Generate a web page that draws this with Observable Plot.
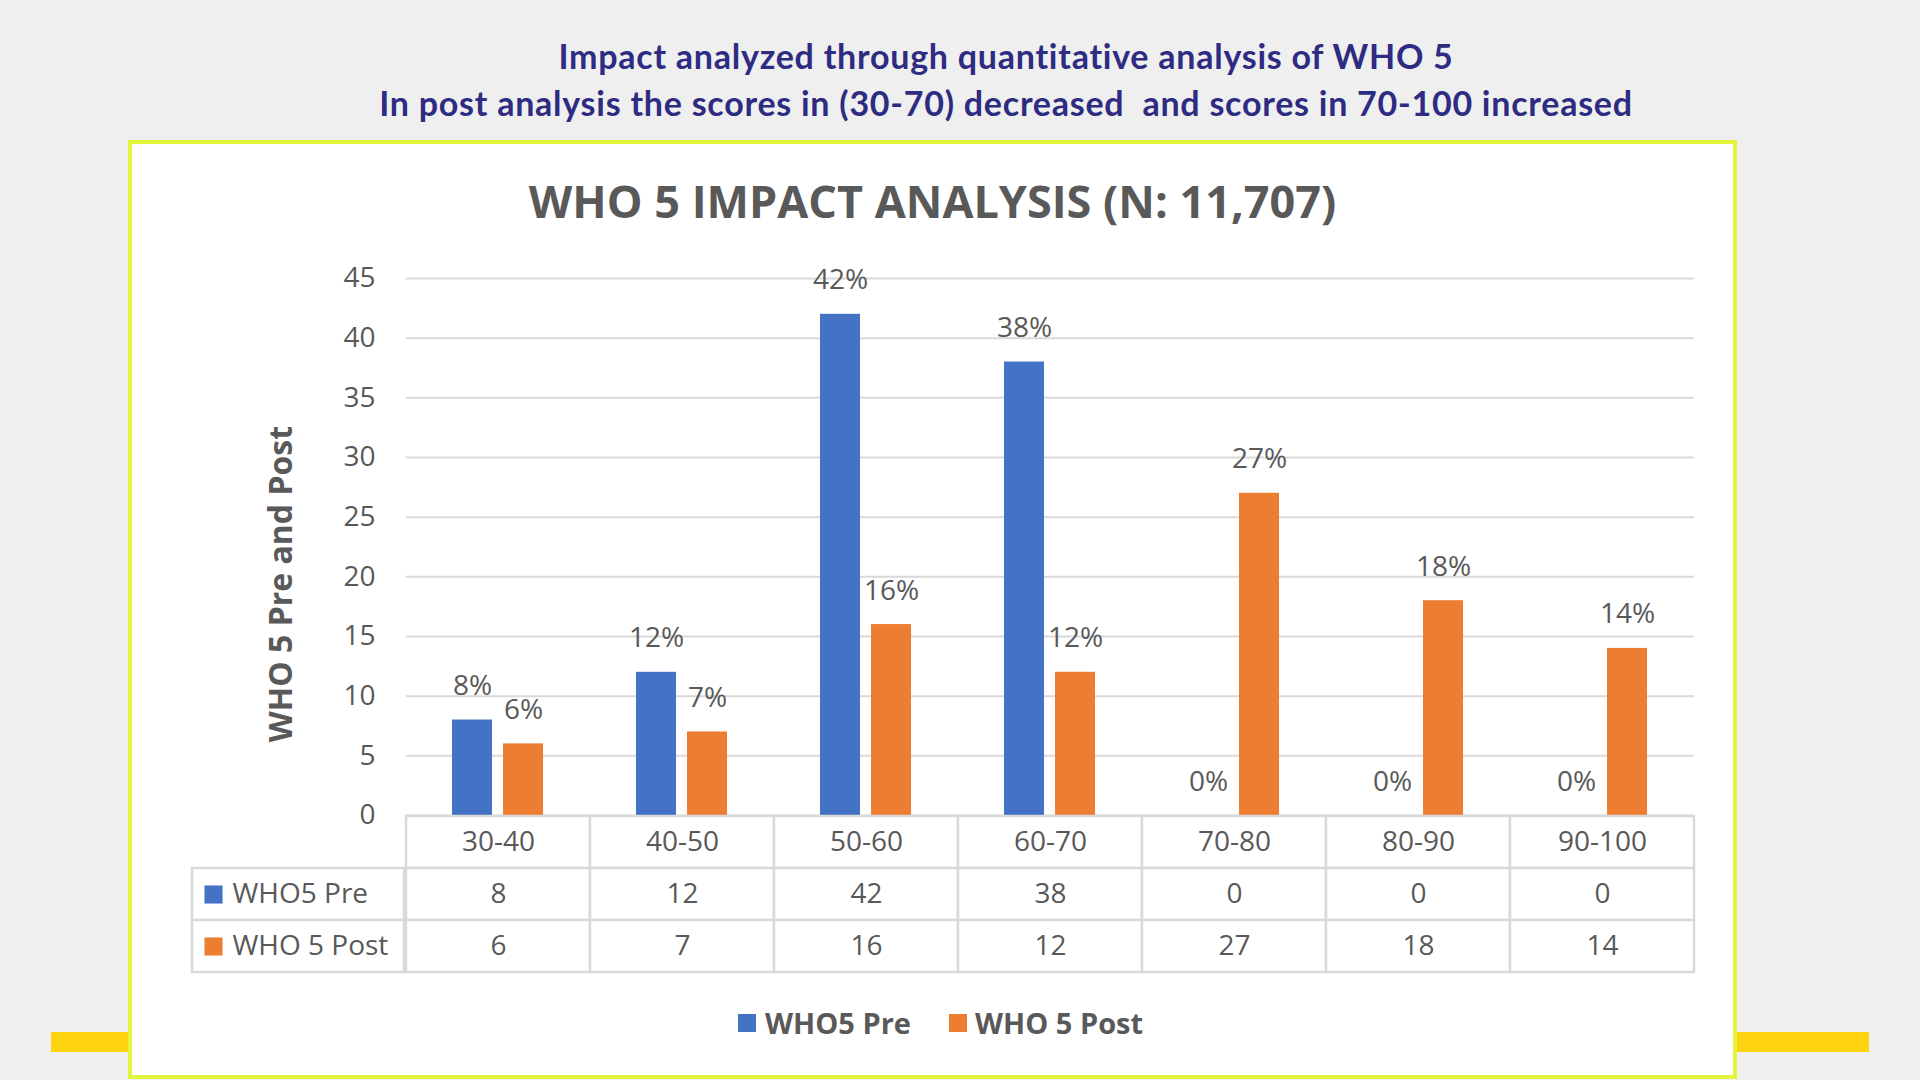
<!DOCTYPE html>
<html>
<head>
<meta charset="utf-8">
<script src="https://cdn.jsdelivr.net/npm/d3@7"></script>
<script src="https://cdn.jsdelivr.net/npm/@observablehq/plot@0.6"></script>
<style>
  html, body { margin: 0; padding: 0; background: #efefef; }
  #page { position: relative; width: 1920px; height: 1080px; overflow: hidden; background: #efefef; font-family: "Open Sans", sans-serif; }
  .abs { position: absolute; }
  .headline { font-family: "Lato", sans-serif; font-weight: 700; color: #2e2b82; font-size: 34px; line-height: 34px; letter-spacing: 0.75px; white-space: pre; transform: translateX(-50%); left: 1006px; }
  .yellow { background: #fdd20e; top: 1032px; height: 20px; }
  #frame { left: 128px; top: 140px; width: 1609px; height: 939px; box-sizing: border-box; border: 4px solid #e3f53a; background: #ffffff; }
  #chartTitle { left: 132px; width: 1601px; top: 178px; text-align: center; font-weight: 700; font-size: 45px; line-height: 45px; color: #595959; }
  #yLabel { left: 279.5px; top: 584px; transform: translate(-50%, -50%) rotate(-90deg); font-weight: 700; font-size: 32px; line-height: 32px; color: #595959; white-space: nowrap; }
  .plotHolder { left: 0; top: 0; width: 1920px; height: 1080px; }
  .lgSq { width: 18px; height: 18px; top: 1014px; }
  .lgTx { top: 1022px; transform: translateY(-50%); font-weight: 700; font-size: 29px; line-height: 29px; color: #595959; white-space: nowrap; }
</style>
</head>
<body>
<div id="page">
  <div class="abs headline" id="t1" style="top:39px;"></div>
  <div class="abs headline" id="t2" style="top:86px;"></div>
  <div class="abs yellow" style="left:51px; width:80px;"></div>
  <div class="abs yellow" style="left:1734px; width:135px;"></div>
  <div class="abs" id="frame"></div>
  <div class="abs" id="chartTitle"></div>
  <div class="abs" id="yLabel"></div>
  <div class="abs plotHolder" id="chartPlot"></div>
  <div class="abs plotHolder" id="tablePlot"></div>
  <div class="abs lgSq" id="lgSq1" style="left:738px;"></div>
  <div class="abs lgTx" id="lgTx1" style="left:765px;"></div>
  <div class="abs lgSq" id="lgSq2" style="left:949px;"></div>
  <div class="abs lgTx" id="lgTx2" style="left:975px;"></div>
</div>
<script>
// ---- data ----
const headline1 = "Impact analyzed through quantitative analysis of WHO 5";
const headline2 = "In post analysis the scores in (30-70) decreased  and scores in 70-100 increased";
const chartTitle = "WHO 5 IMPACT ANALYSIS (N: 11,707)";
const yAxisTitle = "WHO 5 Pre and Post";
const categories = ["30-40", "40-50", "50-60", "60-70", "70-80", "80-90", "90-100"];
const seriesNames = ["WHO5 Pre", "WHO 5 Post"];
const preValues = [8, 12, 42, 38, 0, 0, 0];
const postValues = [6, 7, 16, 12, 27, 18, 14];
const yTicks = [0, 5, 10, 15, 20, 25, 30, 35, 40, 45];
const seriesColors = ["#4472c4", "#ed7d31"];

// ---- derived table ----
const barData = [];
categories.forEach((c, i) => {
  barData.push({cat: c, series: seriesNames[0], value: preValues[i]});
  barData.push({cat: c, series: seriesNames[1], value: postValues[i]});
});

document.getElementById("t1").textContent = headline1;
document.getElementById("t2").textContent = headline2;
document.getElementById("chartTitle").textContent = chartTitle;
document.getElementById("yLabel").textContent = yAxisTitle;
document.getElementById("lgSq1").style.background = seriesColors[0];
document.getElementById("lgSq2").style.background = seriesColors[1];
document.getElementById("lgTx1").textContent = seriesNames[0];
document.getElementById("lgTx2").textContent = seriesNames[1];

const textColor = "#595959";
const lineColor = "#d9d9d9";
const commonStyle = {background: "transparent", overflow: "visible", fontFamily: "Open Sans", fontSize: "28px", color: textColor};

// ---- bar chart ----
const chart = Plot.plot({
  width: 1920,
  height: 1080,
  marginLeft: 404,
  marginRight: 225,
  marginTop: 278,
  marginBottom: 265,
  style: commonStyle,
  fx: {domain: categories, padding: 0, axis: null, label: null},
  x: {domain: seriesNames, paddingInner: 0.2115, paddingOuter: 0.879, axis: null, label: null},
  y: {domain: [0, 45], ticks: yTicks, tickSize: 0, tickPadding: 31, label: null},
  color: {domain: seriesNames, range: seriesColors},
  marks: [
    Plot.ruleY(yTicks, {stroke: lineColor, strokeWidth: 2}),
    Plot.barY(barData, {fx: "cat", x: "series", y: "value", fill: "series"}),
    Plot.text(barData, {fx: "cat", x: "series", y: "value", text: d => d.value + "%", lineAnchor: "bottom", dy: -25, fill: textColor, fontSize: 28})
  ]
});
document.getElementById("chartPlot").appendChild(chart);

// ---- data table ----
const headerRow = "header";
const tableRows = [headerRow, ...seriesNames];
const table = Plot.plot({
  width: 1920,
  height: 1080,
  marginLeft: 404,
  marginRight: 225,
  marginTop: 815,
  marginBottom: 107,
  style: commonStyle,
  x: {domain: categories, padding: 0, axis: null},
  y: {domain: tableRows, padding: 0, axis: null},
  color: {domain: seriesNames, range: seriesColors},
  marks: [
    Plot.cell(categories, {x: d => d, y: () => headerRow, fill: "white", stroke: lineColor, strokeWidth: 2.5}),
    Plot.cell(barData, {x: "cat", y: "series", fill: "white", stroke: lineColor, strokeWidth: 2.5}),
    Plot.cell(seriesNames, {y: d => d, insetLeft: -212, insetRight: 1291, fill: "white", stroke: lineColor, strokeWidth: 2.5}),
    Plot.text(categories, {x: d => d, y: () => headerRow, text: d => d, fill: textColor, fontSize: 28}),
    Plot.text(barData, {x: "cat", y: "series", text: d => String(d.value), fill: textColor, fontSize: 28}),
    Plot.dot(seriesNames, {y: d => d, frameAnchor: "left", dx: -191, symbol: "square", r: 10.2, fill: d => d}),
    Plot.text(seriesNames, {y: d => d, frameAnchor: "left", textAnchor: "start", dx: -172, text: d => d, fill: textColor, fontSize: 28})
  ]
});
document.getElementById("tablePlot").appendChild(table);
</script>
</body>
</html>
